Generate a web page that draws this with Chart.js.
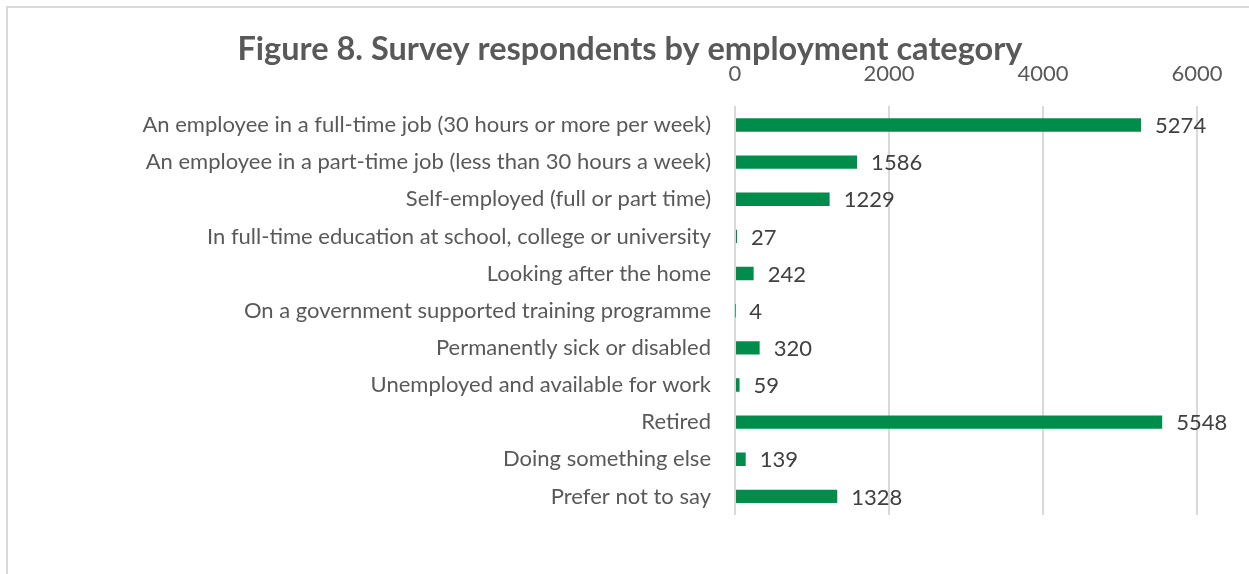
<!DOCTYPE html>
<html>
<head>
<meta charset="utf-8">
<title>Figure 8. Survey respondents by employment category</title>
<script src="https://cdn.jsdelivr.net/npm/chart.js@4.4.1/dist/chart.umd.min.js"></script>
<style>
  html, body { margin: 0; padding: 0; background: #fff; }
  body { width: 1249px; height: 574px; position: relative; overflow: hidden; }
  .frame {
    position: absolute; left: 6px; top: 6px; width: 1300px; height: 620px;
    border: 2px solid #d9d9d9; box-sizing: border-box;
  }
  #chartWrap { position: absolute; left: 0; top: 0; width: 1249px; height: 574px; }
</style>
</head>
<body>
<div class="frame"></div>
<div id="chartWrap"><canvas id="employmentChart"></canvas></div>
<script>
// categories and counts, top to bottom
const categories = [
  "An employee in a full-time job (30 hours or more per week)",
  "An employee in a part-time job (less than 30 hours a week)",
  "Self-employed (full or part time)",
  "In full-time education at school, college or university",
  "Looking after the home",
  "On a government supported training programme",
  "Permanently sick or disabled",
  "Unemployed and available for work",
  "Retired",
  "Doing something else",
  "Prefer not to say"
];
const respondents = [5274, 1586, 1229, 27, 242, 4, 320, 59, 5548, 139, 1328];
const xTicks = [0, 2000, 4000, 6000];

const FONT = "Lato, 'Open Sans', sans-serif";
const GREEN = "#008d4b";

// writes the count just past the end of each bar
const valueLabels = {
  id: "valueLabels",
  afterDatasetsDraw(chart) {
    const ctx = chart.ctx;
    const meta = chart.getDatasetMeta(0);
    ctx.save();
    ctx.font = "22px " + FONT;
    ctx.fillStyle = "#404040";
    ctx.textAlign = "left";
    ctx.textBaseline = "middle";
    meta.data.forEach((bar, i) => {
      ctx.fillText(String(respondents[i]), bar.x + 14, bar.y + 1);
    });
    ctx.restore();
  }
};

new Chart(document.getElementById("employmentChart"), {
  type: "bar",
  data: {
    labels: categories,
    datasets: [{
      data: respondents,
      backgroundColor: GREEN,
      borderWidth: 0,
      categoryPercentage: 0.36,
      barPercentage: 1
    }]
  },
  options: {
    indexAxis: "y",
    responsive: true,
    maintainAspectRatio: false,
    animation: false,
    // left padding keeps the title centred over the whole frame
    layout: { padding: { left: 63, right: 52, top: 0, bottom: 59 } },
    plugins: {
      legend: { display: false },
      tooltip: { enabled: false },
      title: {
        display: true,
        text: "Figure 8. Survey respondents by employment category",
        color: "#595959",
        font: { family: FONT, size: 32.5, weight: "bold" },
        padding: { top: 30, bottom: -27 }
      }
    },
    scales: {
      x: {
        position: "top",
        min: 0,
        max: 6000,
        afterBuildTicks(scale) { scale.ticks = xTicks.map(v => ({ value: v })); },
        ticks: {
          color: "#595959",
          font: { family: FONT, size: 22 },
          padding: 19,
          callback: v => String(v)
        },
        grid: { color: "#d9d9d9", lineWidth: 2, drawTicks: false },
        border: { display: false }
      },
      y: {
        afterFit(scale) { scale.width = 672; },
        ticks: { color: "#595959", font: { family: FONT, size: 22 }, padding: 16, autoSkip: false },
        grid: { display: false },
        border: { display: false }
      }
    }
  },
  plugins: [valueLabels]
});
</script>
</body>
</html>
